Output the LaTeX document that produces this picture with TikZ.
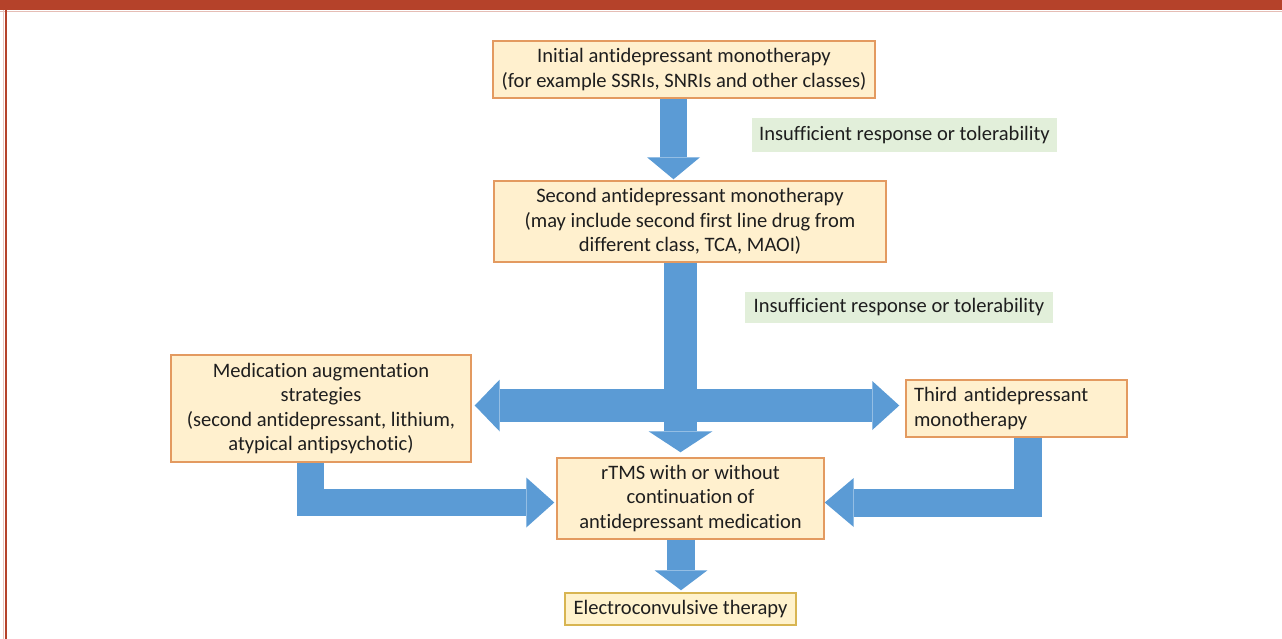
\documentclass[tikz,border=0pt]{standalone}
\usepackage{fontspec}
\setmainfont{Carlito}[Ligatures=NoCommon]
\usepackage{xcolor}
\usepackage{tikz}
\usetikzlibrary{arrows.meta,positioning}
\definecolor{framered}{HTML}{B5422A}
\definecolor{stagefill}{HTML}{FFF0CE}
\definecolor{stageline}{HTML}{E39A60}
\definecolor{lastfill}{HTML}{FFF2CC}
\definecolor{lastline}{HTML}{D8B552}
\definecolor{notefill}{HTML}{E2EFDA}
\definecolor{flowblue}{HTML}{5B9BD5}
\definecolor{inktext}{HTML}{1E1E1E}
\tikzset{
  stage/.style={draw=stageline, fill=stagefill, line width=1.1pt, align=center, inner sep=0pt, text=inktext, font=\fontsize{15.4}{18.2}\selectfont},
  laststage/.style={stage, draw=lastline, fill=lastfill},
  cond/.style={fill=notefill, inner sep=0pt, text=inktext, font=\fontsize{15.4}{18.2}\selectfont},
  bar/.style={draw=flowblue, line width=#1, line join=miter},
  tip/.style 2 args={-{Triangle[length=#1, width=#2, line width=0pt]}}
}
\begin{document}
\begin{tikzpicture}[x=0.75pt, y=-0.75pt]
  \useasboundingbox (0,0) rectangle (1282,639);
  \fill[framered] (0,0) rectangle (1282,10);
  \draw[framered!35, line width=0.75pt] (0,11) -- (1282,11);
  \draw[framered, line width=1.5pt] (5.5,10) -- (5.5,639);
  \draw[framered!30, line width=0.75pt] (3.8,10) -- (3.8,639);

  \node[stage, minimum width=286.5pt, minimum height=42.75pt] (init) at (684,69.5)
    {Initial antidepressant monotherapy\\(for example SSRIs, SNRIs and other classes)};
  \node[stage, minimum width=294pt, minimum height=60.75pt] (second) at (690,221.5)
    {Second antidepressant monotherapy\\(may include second first line drug from\\different class, TCA, MAOI)};
  \node[stage, minimum width=225pt, minimum height=80.25pt] (augment) at (321,408.5)
    {Medication augmentation\\strategies\\(second antidepressant, lithium,\\atypical antipsychotic)};
  \node[stage, align=left, inner xsep=6pt, text width=153.75pt, minimum height=42.75pt] (third) at (1016.5,408.5)
    {Third antidepressant\\monotherapy};
  \node[stage, minimum width=200.25pt, minimum height=60.75pt] (rtms) at (690.5,498.5)
    {rTMS with or without\\continuation of\\antidepressant medication};
  \node[laststage, minimum width=173.25pt, minimum height=24pt] (ect) at (680.5,609)
    {Electroconvulsive therapy};

  \node[cond, minimum width=228.75pt, minimum height=25.5pt] (cond1) at (904.5,135)
    {Insufficient response or tolerability};
  \node[cond, minimum width=231pt, minimum height=23.25pt] (cond2) at (899,307.5)
    {Insufficient response or tolerability};

  % block arrows
  \coordinate (a1) at ([xshift=-7.875pt]init.south);
  \draw[bar=20.25pt, tip={16.5pt}{39.75pt}, shorten >=0.75pt] (a1) -- (a1 |- second.north);
  \coordinate (a2) at ([xshift=-7.125pt]second.south);
  \draw[bar=24.75pt, tip={15.75pt}{48pt}, shorten >=3.75pt] (a2) -- (a2 |- rtms.north);
  \draw[bar=24.75pt, {Triangle[length=18.75pt, width=39pt, line width=0pt]}-{Triangle[length=20.25pt, width=36.75pt, line width=0pt]},
    shorten <=2.25pt, shorten >=4.5pt] ([yshift=2.25pt]augment.east) -- ([yshift=2.25pt]third.west);
  \draw[bar=20.25pt, tip={21pt}{37.5pt}, shorten >=1.5pt] ([xshift=-7.875pt]augment.south) |- ([yshift=-3pt]rtms.west);
  \draw[bar=21pt, tip={21.75pt}{36.75pt}] ([xshift=8.25pt]third.south) |- ([yshift=-3pt]rtms.east);
  \coordinate (a3) at ([xshift=-7.125pt]rtms.south);
  \draw[bar=21pt, tip={15pt}{39.75pt}, shorten >=1.5pt] (a3) -- (a3 |- ect.north);
\end{tikzpicture}
\end{document}
